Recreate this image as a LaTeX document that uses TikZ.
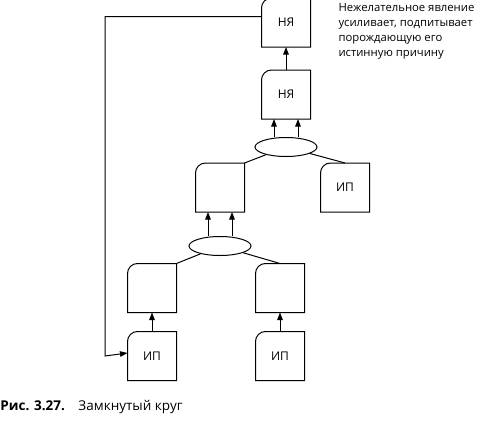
\documentclass[tikz,border=0pt]{standalone}
\usepackage{fontspec}
\setmainfont{Open Sans}
\usetikzlibrary{positioning, arrows.meta, shapes.geometric}

\begin{document}
\begin{tikzpicture}[
        x=1pt, y=-1pt,
        font=\fontsize{11.3}{15}\selectfont,
        line width=1pt,
        node distance=19pt and 79pt,
        box/.style={
            minimum width=48pt,
            minimum height=48pt,
            inner sep=0pt,
            font=\fontsize{12}{14}\selectfont
        },
        link/.style={
            draw,
            ellipse,
            minimum width=62pt,
            minimum height=19pt,
            inner sep=0pt
        },
        arr/.style={
            -{Triangle[length=7.5pt, width=5.5pt]}
        }
    ]
    \useasboundingbox (0,0) rectangle (480,421);

    % lower level
    \node[box] (ipL) at (152,356) {ИП};
    \node[box, right=of ipL] (ipR) {ИП};
    \node[box, above=of ipL] (effL) {};
    \node[box, above=of ipR] (effR) {};

    % middle level
    \node[link] (andLow) at (220,246) {};
    \node[box, above=24pt of andLow] (effM) {};
    \node[box, right=76pt of effM] (ipM) {ИП};

    % top level
    \node[link] (andTop) at (286,147) {};
    \node[box, above=18pt of andTop] (ny2) {НЯ};
    \node[box, above=23pt of ny2] (ny1) {НЯ};

    \node[anchor=north west, align=left, inner sep=0pt] (note) at (338,3)
        {Нежелательное явление\\усиливает, подпитывает\\порождающую его\\истинную причину};

    \node[anchor=base west, inner sep=0pt, font=\fontsize{13.5}{16}\selectfont] (caption) at (0,410)
        {\textbf{Рис. 3.27.}\hspace{1em}Замкнутый круг};

    % box outlines, top left corner rounded
    \foreach \n in {ipL, ipR, effL, effR, effM, ipM, ny2, ny1}
        \draw (\n.south west) -- ([yshift=-10pt]\n.north west)
            to[out=90, in=180] ([xshift=10pt]\n.north west)
            -- (\n.north east) -- (\n.south east) -- cycle;

    \draw[arr] (ipL) -- (effL);
    \draw[arr] (ipR) -- (effR);
    \draw (effL.north east) -- (andLow);
    \draw (effR.north) -- (andLow);
    \draw[arr] ([xshift=-12pt]andLow.north) -- ([xshift=-12pt]effM.south);
    \draw[arr] ([xshift=12pt]andLow.north) -- ([xshift=12pt]effM.south);
    \draw (effM.north east) -- (andTop);
    \draw (ipM.north) -- (andTop);
    \draw[arr] ([xshift=-12pt]andTop.north) -- ([xshift=-12pt]ny2.south);
    \draw[arr] ([xshift=12pt]andTop.north) -- ([xshift=12pt]ny2.south);
    \draw[arr] (ny2) -- (ny1);

    % feedback loop
    \coordinate (turn) at (105,0);
    \draw[arr] ([yshift=6pt]ny1.west) -| (turn |- ipL) -- ([yshift=3pt]ipL.west);
    \end{tikzpicture}
\end{document}
